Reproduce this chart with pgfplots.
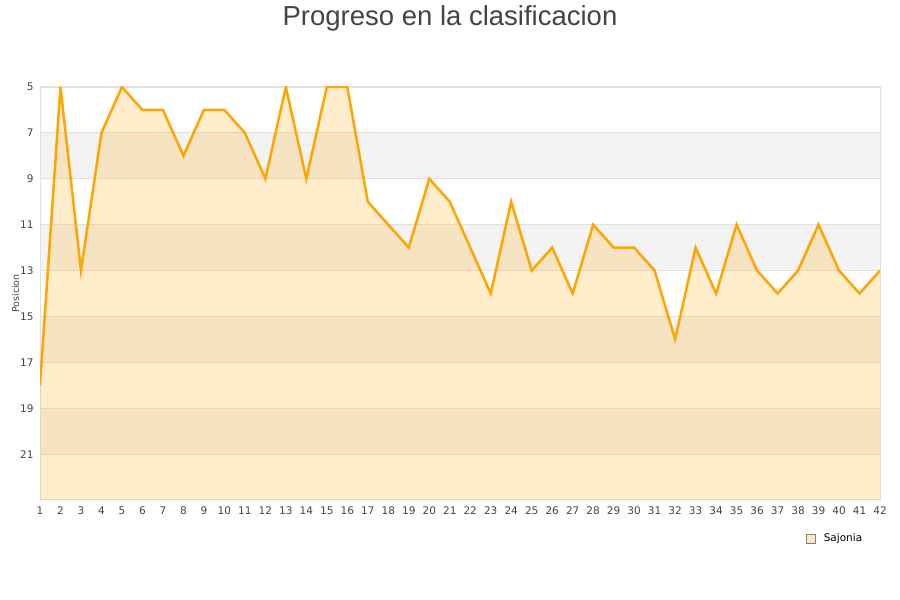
\documentclass[border=0pt]{standalone}
\usepackage{fontspec}
\setmainfont{DejaVu Sans}
\newfontfamily\titlefont{Liberation Sans}
\usepackage{pgfplots}
\usepackage{pgfplotstable}
\pgfplotsset{compat=1.18}

\definecolor{txt}{HTML}{444444}
\definecolor{gridc}{HTML}{E0E0E0}
\definecolor{bandc}{HTML}{F3F3F3}
\definecolor{linec}{HTML}{FFA500}

% posicion de Sajonia por jornada
\pgfplotstableread{
x y
1 18
2 5
3 13
4 7
5 5
6 6
7 6
8 8
9 6
10 6
11 7
12 9
13 5
14 9
15 5
16 5
17 10
18 11
19 12
20 9
21 10
22 12
23 14
24 10
25 13
26 12
27 14
28 11
29 12
30 12
31 13
32 16
33 12
34 14
35 11
36 13
37 14
38 13
39 11
40 13
41 14
42 13
}\sajonia

% misma serie, cerrada hasta el fondo del eje
\pgfplotstableread{
x y
1 23
1 18
2 5
3 13
4 7
5 5
6 6
7 6
8 8
9 6
10 6
11 7
12 9
13 5
14 9
15 5
16 5
17 10
18 11
19 12
20 9
21 10
22 12
23 14
24 10
25 13
26 12
27 14
28 11
29 12
30 12
31 13
32 16
33 12
34 14
35 11
36 13
37 14
38 13
39 11
40 13
41 14
42 13
42 23
}\sajoniaarea

\begin{document}
\begin{tikzpicture}
\path (0pt,0pt) rectangle (900pt,600pt);
\node[font=\titlefont\fontsize{27.5}{30}\selectfont, text=txt] at (450pt,582pt) {Progreso en la clasificacion};
\begin{axis}[
    set layers,
    at={(40pt,100pt)}, anchor=south west,
    scale only axis,
    width=840pt, height=413pt,
    xmin=1, xmax=42,
    ymin=5, ymax=23,
    y dir=reverse,
    xtick={1,...,42},
    ytick={5,7,...,21},
    /pgf/number format/assume math mode=true,
    major tick length=0pt,
    ymajorgrids=true,
    grid style={gridc, line width=0.8pt},
    axis line style={draw=gridc, line width=1pt},
    tick label style={font=\fontsize{10.5}{12}\selectfont, text=txt},
    xticklabel style={yshift=-3pt},
    yticklabel style={xshift=-3pt},
    ylabel={Posicion},
    ylabel style={font=\fontsize{9.5}{11}\selectfont, text=txt},
    ylabel shift=-6pt,
    legend style={at={(0.985,-0.072)}, anchor=north east, draw=none, fill=none,
                  font=\fontsize{10.5}{12}\selectfont},
    legend cell align=left,
]
\begin{pgfonlayer}{axis background}
\fill[bandc] (axis cs:1,7) rectangle (axis cs:42,9);
\fill[bandc] (axis cs:1,11) rectangle (axis cs:42,13);
\fill[bandc] (axis cs:1,15) rectangle (axis cs:42,17);
\fill[bandc] (axis cs:1,19) rectangle (axis cs:42,21);
\end{pgfonlayer}
\addplot[fill=linec, fill opacity=0.2, draw=none, forget plot] table[x=x,y=y]{\sajoniaarea};
\addplot[draw=linec, line width=2.5pt, line join=miter, mark=none, forget plot]
    table[x=x,y=y]{\sajonia};
\addlegendimage{legend image code/.code={
    \draw[gray, line width=0.8pt, fill=linec!25] (0pt,-4.5pt) rectangle (9pt,4.5pt);}}
\addlegendentry{\hspace{6pt}Sajonia}
\end{axis}
\end{tikzpicture}
\end{document}
